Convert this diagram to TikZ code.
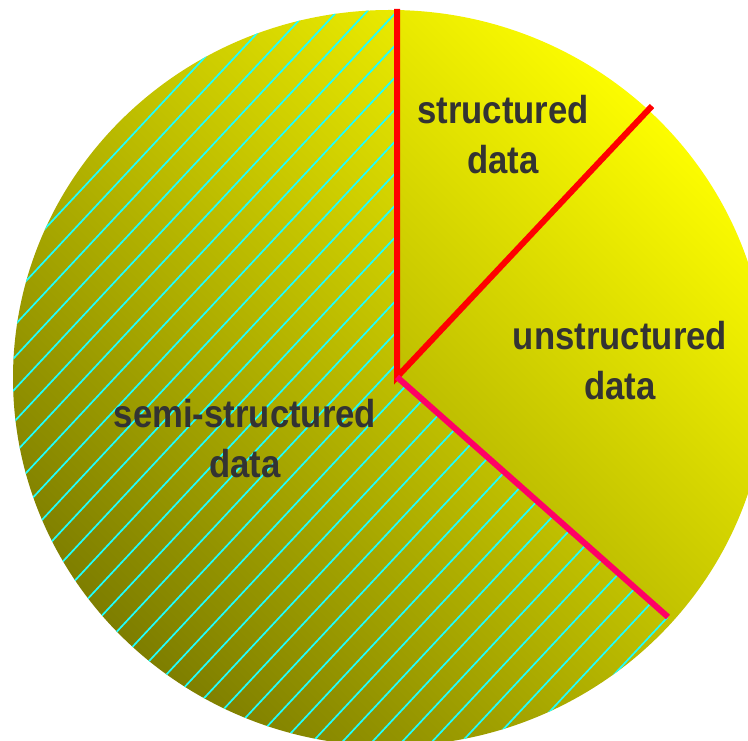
\documentclass[tikz,border=0pt]{standalone}
\usepackage{fontspec}
\newfontfamily\labelfont{Liberation Sans}[FakeStretch=0.89]
\definecolor{pieyellow}{RGB}{252,252,0}
\definecolor{pieolive}{RGB}{126,126,0}
\definecolor{hatchcyan}{RGB}{30,255,255}
\definecolor{cutred}{RGB}{255,0,0}
\definecolor{cutpink}{RGB}{255,0,102}
\definecolor{labelgray}{RGB}{51,51,51}

\begin{document}
\begin{tikzpicture}[x=1pt,y=1pt,
  cut/.style={line width=6pt},
  piece/.style={font=\labelfont\bfseries\fontsize{39}{50}\selectfont,
    text=labelgray,align=center,inner sep=0pt}]
\useasboundingbox (0,0) rectangle (748,741);
\clip (0,0) rectangle (748,741);
\coordinate (hub) at (397,364);
\coordinate (top) at (397,732);
\coordinate (upper) at (652,635);
\coordinate (lower) at (668,124);
% the pie
\shade[top color=pieyellow,bottom color=pieolive,shading angle=-45]
  (390,363) ellipse [x radius=377,y radius=368];
% hatching of the semi-structured part
\begin{scope}
\clip (390,363) ellipse [x radius=377,y radius=368];
\clip (hub) -- (397,800) -- (-50,800) -- (-50,-400) -- (1210,-356) -- cycle;
\foreach \k in {-14,...,40}
  \draw[hatchcyan,line width=1.7pt] (-50,{314.5-32*\k}) -- (850,{1279.3-32*\k});
\end{scope}
% the cuts
\draw[cut,cutred] (top) -- (hub) -- (upper);
\draw[cut,cutpink] (hub) -- (lower);
\node[piece] (structured) at (503,606) {structured\\data};
\node[piece] (unstructured) at (620,380) {unstructured\\data};
\node[piece] (semi) at (245,302) {semi-structured\\data};
\end{tikzpicture}
\end{document}
